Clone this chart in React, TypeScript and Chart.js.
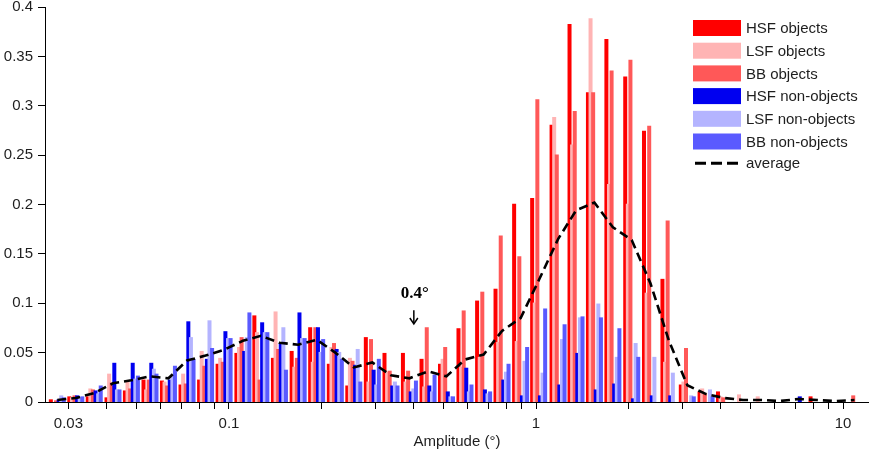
import React, { useEffect, useRef } from "react";
import { Chart, registerables } from "chart.js";

Chart.register(...registerables);

// Bin centres (amplitude, degrees), log-spaced
const BINS = [
  0.0276, 0.0317, 0.0364, 0.0419, 0.0481, 0.0553, 0.0635, 0.073, 0.0839, 0.0964,
  0.111, 0.127, 0.146, 0.168, 0.193, 0.222, 0.255, 0.293, 0.337, 0.387,
  0.445, 0.511, 0.587, 0.675, 0.775, 0.891, 1.02, 1.18, 1.35, 1.55,
  1.78, 2.05, 2.36, 2.71, 3.11, 3.58, 4.11, 4.72, 5.43, 6.23,
  7.16, 8.23, 9.46, 10.9,
];

const HSF_OBJECTS = [
  0.002, 0.005, 0.005, 0.004, 0.011, 0.022, 0.021, 0.017, 0.022, 0.038,
  0.049, 0.087, 0.044, 0.051, 0.075, 0.038, 0.016, 0.065, 0.049, 0.049,
  0.043, 0.038, 0.074, 0.102, 0.114, 0.2, 0.206, 0.28, 0.382, 0.313,
  0.367, 0.329, 0.274, 0.124, 0.017, 0.01, 0.01, 0, 0, 0,
  0, 0.005, 0, 0,
];

const LSF_OBJECTS = [
  0, 0.004, 0.013, 0.028, 0.02, 0.012, 0.02, 0.028, 0.051, 0.044,
  0.055, 0.07, 0.091, 0.035, 0.04, 0.055, 0.044, 0.02, 0.03, 0.02,
  0.015, 0.043, 0.035, 0.045, 0.06, 0.061, 0.1, 0.288, 0.26, 0.388,
  0.22, 0.2, 0.11, 0.04, 0.02, 0.013, 0.005, 0.007, 0.005, 0,
  0, 0, 0, 0,
];

const BB_OBJECTS = [
  0.001, 0.006, 0.012, 0.019, 0.013, 0.022, 0.016, 0.018, 0.036, 0.04,
  0.065, 0.022, 0.053, 0.044, 0.075, 0.059, 0.041, 0.063, 0.031, 0.031,
  0.075, 0.055, 0.092, 0.111, 0.168, 0.147, 0.306, 0.25, 0.294, 0.313,
  0.335, 0.346, 0.279, 0.183, 0.054, 0.008, 0.004, 0, 0, 0,
  0, 0, 0, 0.006,
];

const HSF_NON_OBJECTS = [
  0.002, 0.006, 0.011, 0.039, 0.039, 0.039, 0.022, 0.081, 0.043, 0.071,
  0.051, 0.08, 0.059, 0.09, 0.075, 0.053, 0.037, 0.032, 0.016, 0.01,
  0.016, 0.01, 0.034, 0.012, 0.022, 0.006, 0.006, 0.017, 0.049, 0.012,
  0.018, 0.003, 0.006, 0.006, 0, 0, 0, 0, 0, 0,
  0.005, 0, 0, 0,
];

const LSF_NON_OBJECTS = [
  0.006, 0.003, 0.008, 0.012, 0.023, 0.033, 0.027, 0.065, 0.082, 0.064,
  0.065, 0.07, 0.075, 0.064, 0.05, 0.05, 0.053, 0.017, 0.02, 0.013,
  0.01, 0.005, 0.01, 0.008, 0.03, 0.041, 0.029, 0.063, 0.085, 0.099,
  0.045, 0.059, 0.045, 0.029, 0.006, 0.012, 0, 0, 0, 0,
  0, 0, 0, 0,
];

const BB_NON_OBJECTS = [
  0.004, 0.005, 0.016, 0.012, 0.026, 0.028, 0.036, 0.043, 0.054, 0.064,
  0.09, 0.07, 0.032, 0.064, 0.063, 0.043, 0.02, 0.043, 0.016, 0.021,
  0.027, 0.005, 0.017, 0.01, 0.038, 0.055, 0.094, 0.078, 0.086, 0.085,
  0.074, 0.045, 0, 0, 0.005, 0.005, 0, 0, 0, 0,
  0, 0, 0, 0,
];

const AVERAGE = [
  0.002, 0.004, 0.009, 0.019, 0.022, 0.026, 0.024, 0.042, 0.047, 0.053,
  0.062, 0.067, 0.06, 0.058, 0.063, 0.05, 0.035, 0.04, 0.027, 0.024,
  0.031, 0.026, 0.043, 0.048, 0.072, 0.085, 0.123, 0.165, 0.194, 0.202,
  0.177, 0.164, 0.12, 0.062, 0.017, 0.008, 0.004, 0.002, 0.002, 0.001,
  0.003, 0.002, 0.001, 0.002,
];

const X_TICKS = [
  0.03, 0.04, 0.05, 0.06, 0.07, 0.08, 0.09,
  0.1, 0.2, 0.3, 0.4, 0.5, 0.6, 0.7, 0.8, 0.9,
  1, 2, 3, 4, 5, 6, 7, 8, 9, 10,
];
const X_LABELED = [0.03, 0.1, 1, 10];
const X_MIN = 0.02516;
const X_MAX = 12.15;
const Y_MIN = 0;
const Y_MAX = 0.4;
const Y_STEP = 0.05;

const X_TITLE = "Amplitude (°)";
const ANNOT_TEXT = "0.4°";
const ANNOT_X = 0.4;
const ANNOT_TEXT_Y = 0.105;
const ARROW_FROM = 0.093;
const ARROW_TO = 0.079;

const SERIES = [
  { label: "HSF objects", data: HSF_OBJECTS, color: "#ff0000" },
  { label: "LSF objects", data: LSF_OBJECTS, color: "#ffb4b4" },
  { label: "BB objects", data: BB_OBJECTS, color: "#ff5858" },
  { label: "HSF non-objects", data: HSF_NON_OBJECTS, color: "#0000f0" },
  { label: "LSF non-objects", data: LSF_NON_OBJECTS, color: "#b4b4ff" },
  { label: "BB non-objects", data: BB_NON_OBJECTS, color: "#5a5aff" },
];
const AVERAGE_LABEL = "average";

const FONT = "'Liberation Sans', Arial, Helvetica, sans-serif";
const TEXT_COLOR = "#1e1e1e";

const drawOrderPlugin = {
  id: "drawOrder",
  beforeDatasetsDraw(chart: any) {
    const metas = chart.getSortedVisibleDatasetMetas();
    for (const m of metas) chart._drawDataset(m);
    return false;
  },
};

const overlayPlugin = {
  id: "overlay",
  afterDraw(chart: any) {
    const { ctx, scales, chartArea } = chart;
    const xs = scales.x;
    const ys = scales.y;
    ctx.save();

    // annotation
    const ax = xs.getPixelForValue(ANNOT_X);
    ctx.fillStyle = "#000";
    ctx.font = "bold 17px 'Liberation Serif', 'Times New Roman', serif";
    ctx.textAlign = "center";
    ctx.textBaseline = "alphabetic";
    ctx.fillText(ANNOT_TEXT, ax + 1, ys.getPixelForValue(ANNOT_TEXT_Y));
    const y1 = ys.getPixelForValue(ARROW_FROM);
    const y2 = ys.getPixelForValue(ARROW_TO);
    ctx.strokeStyle = "#000";
    ctx.lineWidth = 1.5;
    ctx.beginPath();
    ctx.moveTo(ax, y1);
    ctx.lineTo(ax, y2 - 1);
    ctx.stroke();
    ctx.beginPath();
    ctx.moveTo(ax - 4, y2 - 6);
    ctx.lineTo(ax, y2);
    ctx.lineTo(ax + 4, y2 - 6);
    ctx.stroke();

    // legend
    const lx = chartArea.right - 176;
    const ly = chartArea.top + 13;
    const rowH = 22.7;
    const sw = 48;
    const sh = 16;
    ctx.font = `15px ${FONT}`;
    ctx.textAlign = "left";
    ctx.textBaseline = "middle";
    SERIES.forEach((s, i) => {
      const y = ly + i * rowH;
      ctx.fillStyle = s.color;
      ctx.fillRect(lx, y, sw, sh);
      ctx.fillStyle = TEXT_COLOR;
      ctx.fillText(s.label, lx + sw + 5, y + sh / 2 + 1);
    });
    const ay = ly + SERIES.length * rowH + sh / 2 - 1;
    ctx.strokeStyle = "#000";
    ctx.lineWidth = 3;
    ctx.setLineDash([11, 5]);
    ctx.beginPath();
    ctx.moveTo(lx + 2, ay);
    ctx.lineTo(lx + sw, ay);
    ctx.stroke();
    ctx.setLineDash([]);
    ctx.fillStyle = TEXT_COLOR;
    ctx.fillText(AVERAGE_LABEL, lx + sw + 5, ay + 1);

    ctx.restore();
  },
};

export default function App() {
  const canvasRef = useRef<HTMLCanvasElement | null>(null);

  useEffect(() => {
    const canvas = canvasRef.current;
    if (!canvas) return;
    const tickFont = { family: FONT, size: 15 };
    const chart = new Chart(canvas, {
      type: "bar",
      data: {
        labels: BINS,
        datasets: [
          ...SERIES.map((s) => ({
            type: "bar" as const,
            label: s.label,
            data: s.data.map((v) => (v === 0 ? null : v)),
            backgroundColor: s.color,
            borderWidth: 0,
            barThickness: 2.6,
            inflateAmount: 0.7,
          })),
          {
            type: "line" as const,
            label: AVERAGE_LABEL,
            data: AVERAGE,
            borderColor: "#000",
            borderWidth: 2.6,
            borderDash: [9, 5],
            pointRadius: 0,
            fill: false,
            tension: 0,
          },
        ],
      } as any,
      options: {
        responsive: false,
        animation: false,
        devicePixelRatio: 1,
        layout: { padding: { top: 7, right: 0, bottom: 0, left: 0 }, autoPadding: false },
        plugins: {
          legend: { display: false },
          tooltip: { enabled: false },
          title: { display: false },
        },
        scales: {
          x: {
            type: "logarithmic",
            min: X_MIN,
            max: X_MAX,
            offset: false,
            bounds: "data",
            grid: {
              display: true,
              drawOnChartArea: false,
              drawTicks: true,
              tickLength: 7,
              color: "#000",
              offset: false,
            },
            border: { display: true, color: "#000", width: 1, z: 1 },
            afterBuildTicks: (s: any) => {
              s.ticks = X_TICKS.map((v) => ({ value: v }));
            },
            afterFit: (s: any) => {
              s.height = 56;
              s.paddingLeft = 0;
              s.paddingRight = 0;
            },
            ticks: {
              autoSkip: false,
              maxRotation: 0,
              minRotation: 0,
              padding: 6,
              color: TEXT_COLOR,
              font: tickFont,
              callback: (v: any) => (X_LABELED.includes(Number(v)) ? String(v) : ""),
            },
            title: {
              display: true,
              text: X_TITLE,
              color: TEXT_COLOR,
              font: tickFont,
              padding: { top: 0, bottom: 7 },
            },
          },
          y: {
            type: "linear",
            min: Y_MIN,
            max: Y_MAX,
            grid: {
              display: true,
              drawOnChartArea: false,
              drawTicks: true,
              tickLength: 7,
              color: "#000",
            },
            border: { display: true, color: "#000", width: 1, z: 1 },
            afterFit: (s: any) => {
              s.width = 45;
              s.paddingTop = 0;
              s.paddingBottom = 0;
            },
            ticks: {
              stepSize: Y_STEP,
              padding: 5,
              color: TEXT_COLOR,
              font: tickFont,
              callback: (v: any) => String(Math.round(Number(v) * 100) / 100),
            },
          },
        },
      } as any,
      plugins: [drawOrderPlugin, overlayPlugin],
    });
    return () => chart.destroy();
  }, []);

  return (
    <div
      style={{
        position: "fixed",
        left: 0,
        top: 0,
        width: 869,
        height: 458,
        background: "#fff",
      }}
    >
      <canvas ref={canvasRef} width={869} height={458} style={{ display: "block" }} />
    </div>
  );
}
